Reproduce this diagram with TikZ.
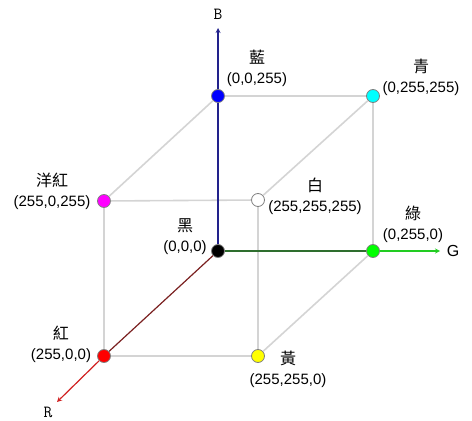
\documentclass[tikz,border=0pt]{standalone}
\usepackage{fontspec}
\setmainfont{Liberation Sans}
\newfontfamily\cjk{Noto Sans CJK TC}
\newfontfamily\axfont{Latin Modern Mono}
\usepackage{tikz}
\usetikzlibrary{arrows, positioning}

\definecolor{navy}{HTML}{22228C}
\definecolor{dgreen}{HTML}{2E6E2E}
\definecolor{lgreen}{HTML}{22CC22}
\definecolor{dred}{HTML}{7A2020}
\definecolor{lred}{HTML}{D02020}
\definecolor{edgegray}{HTML}{D4D4D4}
\definecolor{cblue}{HTML}{0000FF}
\definecolor{ccyan}{HTML}{00FFFF}
\definecolor{cmagenta}{HTML}{FF00FF}
\definecolor{cred}{HTML}{FF0000}
\definecolor{cgreen}{HTML}{00FF00}
\definecolor{cyellow}{HTML}{FFFF00}

\tikzset{
  dot/.style = {circle, draw=gray, line width=0.8pt, minimum size=13pt, inner sep=0pt},
  lbl/.style = {align=center, inner sep=0pt, font=\fontsize{15}{20}\selectfont},
  cube/.style = {draw=edgegray, line width=1.6pt},
  axis/.style = {line width=1.2pt}
}

\begin{document}
\begin{tikzpicture}[> = stealth, node distance = 155pt, on grid, x = 1pt, y = 1pt]

\useasboundingbox (0,0) rectangle (472,421);

\node[dot, fill=black]					(k) at (218,170)	{};
\node[dot, fill=cblue]					(b) [above=of k]	{};
\node[dot, fill=cgreen]					(g) [right=of k]	{};
\node[dot, fill=ccyan]					(c) [above=of g]	{};
\node[dot, fill=cred]					(r) [below left=105pt and 114pt of k]	{};
\node[dot, fill=cmagenta]				(m) [below left=105pt and 114pt of b]	{};
\node[dot, fill=white]					(w) [below left=104pt and 115pt of c]	{};
\node[dot, fill=cyellow]				(y) [below left=105pt and 115pt of g]	{};

\coordinate[above=68pt of b]						(tb);
\coordinate[right=67pt of g]						(tg);
\coordinate[below left=46pt and 47pt of r]			(tr);

\node[font=\axfont\fontsize{17}{17}\selectfont]	(nb) [above=14pt of tb, anchor=center]	{B};
\node[font=\fontsize{16}{16}\selectfont]		(ng) [right=13pt of tg, anchor=center]	{G};
\node[font=\axfont\fontsize{17}{17}\selectfont]	(nr) [below left=10pt and 9pt of tr, anchor=center]	{R};

\node[lbl]	(lb) [above right=28pt and 39pt of b]	{{\cjk\fontsize{16}{16}\selectfont 藍}\\(0,0,255)};
\node[lbl]	(lc) [above right=19pt and 48pt of c]	{{\cjk\fontsize{16}{16}\selectfont 青}\\(0,255,255)};
\node[lbl]	(lw) [above right=4pt and 57pt of w]	{{\cjk\fontsize{16}{16}\selectfont 白}\\(255,255,255)};
\node[lbl]	(lm) [above left=10pt and 52pt of m]	{{\cjk\fontsize{16}{16}\selectfont 洋紅}\\(255,0,255)};
\node[lbl]	(lk) [above left=14pt and 33pt of k]	{{\cjk\fontsize{16}{16}\selectfont 黑}\\(0,0,0)};
\node[lbl]	(lr) [above left=12pt and 43pt of r]	{{\cjk\fontsize{16}{16}\selectfont 紅}\\(255,0,0)};
\node[lbl]	(ly) [below right=13pt and 30pt of y]	{{\cjk\fontsize{16}{16}\selectfont 黃}\\(255,255,0)};
\node[lbl]	(lg) [above right=27pt and 40pt of g]	{{\cjk\fontsize{16}{16}\selectfont 綠}\\(0,255,0)};

% cube edges
\path	(b)	edge[cube]		(c);
\path	(c)	edge[cube]		(g);
\path	(b)	edge[cube]		(m);
\path	(c)	edge[cube]		(w);
\path	(m)	edge[cube]		(w);
\path	(m)	edge[cube]		(r);
\path	(w)	edge[cube]		(y);
\path	(r)	edge[cube]		(y);
\path	(g)	edge[cube]		(y);

% axes
\path	(k)	edge[axis, navy]		(b);
\path	(b)	edge[axis, navy, ->]	(tb);
\path	(k)	edge[axis, dgreen]		(g);
\path	(g)	edge[axis, lgreen, ->]	(tg);
\path	(k)	edge[axis, dred]		(r);
\path	(r)	edge[axis, lred, ->]	(tr);

\end{tikzpicture}
\end{document}
